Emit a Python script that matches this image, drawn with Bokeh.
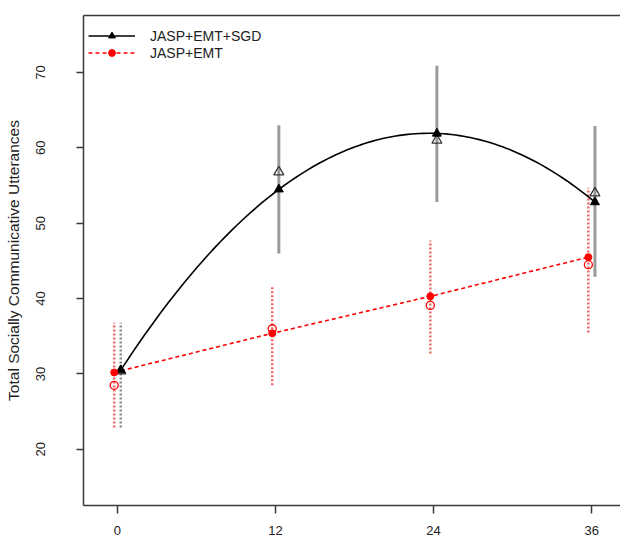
import numpy as np
from bokeh.plotting import figure
from bokeh.models import Range1d, FixedTicker, LinearAxis, Legend, LegendItem
from bokeh.embed import file_html
from bokeh.resources import INLINE

# ---- data ----
months = [0, 12, 24, 36]
x_ticks = [0, 12, 24, 36]
y_ticks = [20, 30, 40, 50, 60, 70]

sgd_fit = [30.5, 54.5, 61.9, 52.8]   # JASP+EMT+SGD model estimates (filled triangles)
sgd_obs = [30.4, 56.8, 61.0, 54.0]   # observed means (open triangles)
sgd_lo = [22.9, 46.0, 52.8, 42.9]
sgd_hi = [36.8, 63.0, 70.9, 62.9]

emt_fit = [30.2, 35.4, 40.3, 45.5]   # JASP+EMT model estimates (filled circles)
emt_obs = [28.5, 36.0, 39.1, 44.5]   # observed means (open circles)
emt_lo = [22.9, 28.5, 32.7, 35.5]
emt_hi = [36.8, 41.6, 47.7, 54.7]

labels = ["JASP+EMT+SGD", "JASP+EMT"]
ylabel = "Total Socially Communicative Utterances"

FONT = "Liberation Sans"
SGD_DX = 0.25
EMT_DX = -0.25

p = figure(width=620, height=540, output_backend="svg", toolbar_location=None,
           x_range=Range1d(-2.58, 38.19), y_range=Range1d(12.55, 77.56),
           min_border_left=83, min_border_top=15, min_border_bottom=35, min_border_right=0,
           x_axis_location=None, y_axis_location=None)
p.grid.visible = False
p.outline_line_color = None
p.background_fill_color = "white"
p.border_fill_color = "white"

AX = "#3a3a3a"
xa = LinearAxis(ticker=FixedTicker(ticks=x_ticks))
xa.axis_line_color = AX
xa.axis_line_width = 1.5
xa.major_tick_line_color = AX
xa.major_tick_line_width = 1.5
xa.major_tick_in = 0
xa.major_tick_out = 8
xa.minor_tick_line_color = None
xa.major_label_text_font = FONT
xa.major_label_text_font_size = "13px"
xa.major_label_text_color = "#222"
xa.major_label_standoff = 12
p.add_layout(xa, "below")

ya = LinearAxis(ticker=FixedTicker(ticks=y_ticks), axis_label=ylabel)
ya.axis_line_color = AX
ya.axis_line_width = 1.5
ya.major_tick_line_color = AX
ya.major_tick_line_width = 1.5
ya.major_tick_in = 0
ya.major_tick_out = 7
ya.minor_tick_line_color = None
ya.major_label_orientation = "vertical"
ya.major_label_text_font = FONT
ya.major_label_text_font_size = "13px"
ya.major_label_text_color = "#222"
ya.major_label_standoff = 31
ya.axis_label_text_font = FONT
ya.axis_label_text_font_size = "15.5px"
ya.axis_label_text_font_style = "normal"
ya.axis_label_text_color = "#222"
ya.axis_label_standoff = 12
p.add_layout(ya, "left")

top = LinearAxis(ticker=FixedTicker(ticks=[]))
top.axis_line_color = AX
top.axis_line_width = 1.5
top.major_tick_line_color = None
top.minor_tick_line_color = None
top.major_label_text_font_size = "0px"
p.add_layout(top, "above")

xs_sgd = [m + SGD_DX for m in months]
xs_emt = [m + EMT_DX for m in months]

# error bars
p.segment(xs_sgd[1:], sgd_lo[1:], xs_sgd[1:], sgd_hi[1:], line_color="#9a9a9a", line_width=3)
p.segment(xs_sgd[:1], sgd_lo[:1], xs_sgd[:1], sgd_hi[:1], line_color="#8a8a8a", line_width=2.5,
          line_dash="2 2")
p.segment(xs_emt, emt_lo, xs_emt, emt_hi, line_color="#ee3333", line_alpha=0.75, line_width=2.5,
          line_dash="2 2")

# quadratic trend fitted to the model estimates
coef = np.polyfit(months, sgd_fit, 2)
tt = np.linspace(months[0], months[-1], 120)
r_curve = p.line(tt + SGD_DX, np.polyval(coef, tt), line_color="black", line_width=1.6)
r_lin = p.line(xs_emt, emt_fit, line_color="red", line_width=1.6, line_dash="4 3")

# observed means (open) and model estimates (filled)
p.scatter(xs_sgd, sgd_obs, marker="triangle", size=10, fill_color=None, line_color="#333",
          line_width=1.3)
p.scatter(xs_emt, emt_obs, marker="circle", size=8, fill_color=None, line_color="red",
          line_width=1.3)
r_tri = p.scatter(xs_sgd, sgd_fit, marker="triangle", size=9, fill_color="black", line_color="black")
r_dot = p.scatter(xs_emt, emt_fit, marker="circle", size=7, fill_color="red", line_color="red")

leg = Legend(items=[LegendItem(label=labels[0], renderers=[r_curve, r_tri]),
                    LegendItem(label=labels[1], renderers=[r_lin, r_dot])],
             location=(5, 444))
leg.border_line_color = None
leg.background_fill_alpha = 0
leg.padding = 0
leg.margin = 0
leg.spacing = 0
leg.glyph_width = 47
leg.glyph_height = 17
leg.label_height = 17
leg.label_standoff = 15
leg.label_text_font = FONT
leg.label_text_font_size = "14px"
leg.label_text_color = "#222"
p.add_layout(leg, "center")

open("out.html", "w").write(file_html(p, INLINE))
